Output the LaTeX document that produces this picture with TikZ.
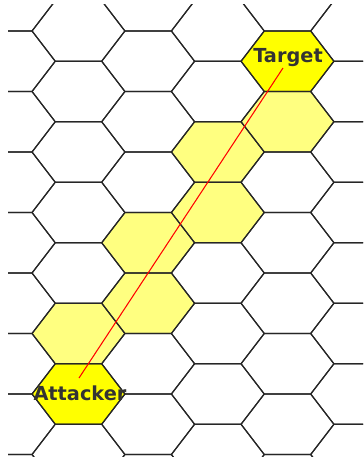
\documentclass[tikz,border=0pt]{standalone}
\usepackage{fontspec}
\setmainfont{DejaVu Sans}
\definecolor{HitYellow}{HTML}{FFFF00}
\definecolor{PathYellow}{HTML}{FFFF80}
\definecolor{LabelInk}{HTML}{333333}

\begin{document}
\begin{tikzpicture}[x=0.03cm,y=-0.03cm,hexline/.style={draw=black!85,line width=1pt,line join=round},unit/.style={font=\fontsize{16.5}{16.5}\selectfont\bfseries,text=LabelInk,inner sep=0pt},sight/.style={draw=red,line width=0.9pt}]
\useasboundingbox (0,0) rectangle (363,459);
\begin{scope}
\clip (8,5) rectangle (363,456);
% hexes on the line of sight
\foreach \cx/\cy/\col in {78.5/394/HitYellow,287.5/61.25/HitYellow,78.5/333.5/PathYellow,148.2/303.25/PathYellow,148.2/242.75/PathYellow,217.8/212.5/PathYellow,217.8/152/PathYellow,287.5/121.75/PathYellow}
  \fill[\col] (\cx,\cy) ++(-46.4,0) -- ++(23.2,-30.25) -- ++(46.4,0) -- ++(23.2,30.25) -- ++(-23.2,30.25) -- ++(-46.4,0) -- cycle;
% hex grid
\foreach \i in {0,...,5}{
  \pgfmathsetmacro{\cx}{8.8+69.67*\i}
  \pgfmathsetmacro{\cy}{mod(\i,2)==1 ? 31 : 61.25}
  \foreach \m in {-1,...,7}
    \draw[hexline] (\cx,\cy+60.5*\m) ++(-46.4,0) -- ++(23.2,-30.25) -- ++(46.4,0) -- ++(23.2,30.25) -- ++(-23.2,30.25) -- ++(-46.4,0) -- cycle;
}
\end{scope}
\coordinate (atkend) at (79,378);\coordinate (tgtend) at (283,68);
\draw[sight] (atkend) -- (tgtend);
\node[unit] (attacker) at (80,393) {Attacker};
\node[unit] (target) at (288,58) {Target};
\end{tikzpicture}
\end{document}
